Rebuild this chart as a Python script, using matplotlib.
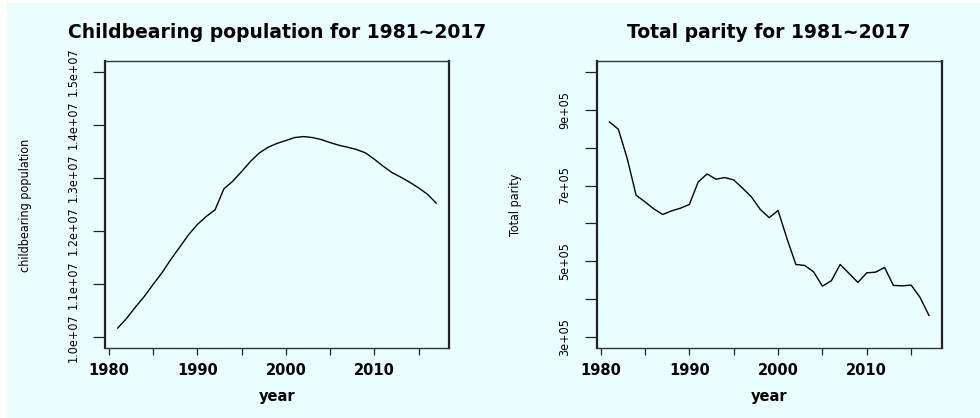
import numpy as np
import matplotlib.pyplot as plt
from matplotlib.patches import Rectangle

years = np.arange(1981, 2018)

# women of childbearing age, per year
childbearing = [1.0175e7, 1.0357e7, 1.0570e7, 1.0770e7, 1.0996e7, 1.1216e7, 1.1466e7,
                1.1697e7, 1.1930e7, 1.2124e7, 1.2274e7, 1.2400e7, 1.2795e7, 1.2938e7,
                1.3120e7, 1.3310e7, 1.3470e7, 1.3577e7, 1.3650e7, 1.3703e7, 1.3760e7,
                1.3778e7, 1.3760e7, 1.3722e7, 1.3665e7, 1.3615e7, 1.3577e7, 1.3534e7,
                1.3471e7, 1.3352e7, 1.3220e7, 1.3101e7, 1.3013e7, 1.2919e7, 1.2813e7,
                1.2694e7, 1.2525e7]

# total parity (births), per year
parity = [8.674e5, 8.482e5, 7.710e5, 6.745e5, 6.570e5, 6.384e5, 6.237e5, 6.332e5,
          6.403e5, 6.500e5, 7.095e5, 7.305e5, 7.166e5, 7.210e5, 7.147e5, 6.929e5,
          6.700e5, 6.368e5, 6.153e5, 6.342e5, 5.605e5, 4.921e5, 4.895e5, 4.726e5,
          4.350e5, 4.490e5, 4.921e5, 4.684e5, 4.447e5, 4.700e5, 4.718e5, 4.842e5,
          4.368e5, 4.358e5, 4.376e5, 4.053e5, 3.579e5]

xticks = [1980, 1985, 1990, 1995, 2000, 2005, 2010, 2015]
xlabels = ['1980', '', '1990', '', '2000', '', '2010', '']

yticks1 = [1.0e7, 1.1e7, 1.2e7, 1.3e7, 1.4e7, 1.5e7]
ylabels1 = ['1.0e+07', '1.1e+07', '1.2e+07', '1.3e+07', '1.4e+07', '1.5e+07']
yticks2 = [3e5, 4e5, 5e5, 6e5, 7e5, 8e5, 9e5, 1e6]
ylabels2 = ['3e+05', '', '5e+05', '', '7e+05', '', '9e+05', '']

bg = '#EAFEFE'
narrow = dict(family='DejaVu Sans', stretch='condensed')

fig = plt.figure(figsize=(9.8, 4.18), dpi=100)
fig.add_artist(Rectangle((7 / 980, 0), 1, 415 / 418, transform=fig.transFigure,
                         facecolor=bg, edgecolor='none', zorder=-10))


def rplot(ax, x, y, ylim, yticks, ylabels, title, ylab, ylab_x):
    ax.set_facecolor('none')
    ax.plot(x, y, color='black', lw=1.0)
    # R style 4% padding on both axes
    pad = (x[-1] - x[0]) * 0.04
    ax.set_xlim(x[0] - pad, x[-1] + pad)
    ypad = (ylim[1] - ylim[0]) * 0.04
    ax.set_ylim(ylim[0] - ypad, ylim[1] + ypad)

    ax.set_xticks(xticks, xlabels, fontsize=10.5, fontweight='bold', family='DejaVu Sans')
    ax.set_yticks(yticks, ylabels)
    for lab in ax.get_yticklabels():
        lab.set_rotation(90)
        lab.set_va('center')
        lab.set_fontproperties(dict(size=9, **narrow))
    ax.tick_params(axis='x', length=5, pad=6, width=0.9, color='#222222')
    ax.tick_params(axis='y', length=8.5, pad=10, width=0.9, color='#222222')

    for side in ['left', 'right']:
        ax.spines[side].set_linewidth(1.6)
        ax.spines[side].set_color('#222222')
    for side in ['top', 'bottom']:
        ax.spines[side].set_linewidth(1.0)
        ax.spines[side].set_color('#333333')

    ax.text(0.5, 1 + 29 / 287, title, transform=ax.transAxes, ha='center',
            va='center', fontsize=13.5, fontweight='bold', family='DejaVu Sans')
    ax.text(0.5, -49 / 287, 'year', transform=ax.transAxes, ha='center',
            va='center', fontsize=10.5, fontweight='bold', family='DejaVu Sans')
    fig.text(ylab_x / 980, 1 - 205 / 418, ylab, rotation=90, ha='center',
             va='center', fontproperties=dict(size=9, **narrow))


ax1 = fig.add_axes([105 / 980, 70 / 418, 344 / 980, 287 / 418])
rplot(ax1, years, childbearing, (1.0e7, 1.5e7), yticks1, ylabels1,
      'Childbearing population for 1981~2017', 'childbearing population', 25)

ax2 = fig.add_axes([596.7 / 980, 70 / 418, 345 / 980, 287 / 418])
rplot(ax2, years, parity, (3e5, 1e6), yticks2, ylabels2,
      'Total parity for 1981~2017', 'Total parity', 515)

plt.savefig('out.png', dpi=100)
